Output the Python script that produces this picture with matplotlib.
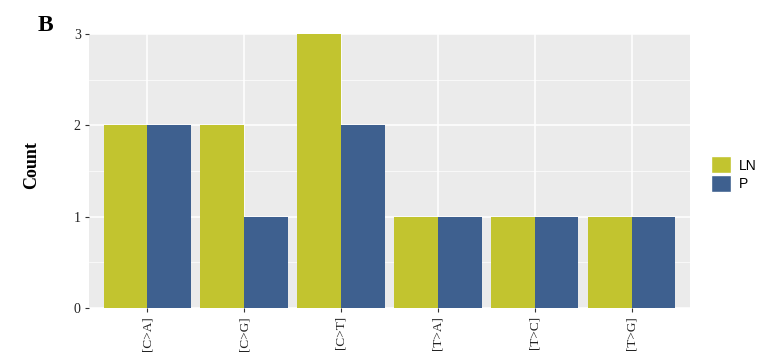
import numpy as np
import matplotlib.pyplot as plt
from matplotlib.patches import Patch

categorias = ['[C>A]', '[C>G]', '[C>T]', '[T>A]', '[T>C]', '[T>G]']
ln = [2, 2, 3, 1, 1, 1]
p = [2, 1, 2, 1, 1, 1]
grupos = ['LN', 'P']
cores = ['#C2C42F', '#3E608F']

serif = 'Liberation Serif'

fig = plt.figure(figsize=(7.84, 3.59), dpi=100)
ax = fig.add_axes([0.1135, 0.142, 0.7665, 0.763])
ax.set_facecolor('#EBEBEB')

x = np.arange(len(categorias))
w = 0.45
ax.bar(x - w / 2, ln, width=w, color=cores[0], zorder=3)
ax.bar(x + w / 2, p, width=w, color=cores[1], zorder=3)

ax.set_xlim(-0.6, len(categorias) - 0.4)
ax.set_ylim(0, 3)
ax.set_yticks([0, 1, 2, 3])
ax.set_yticks([0.5, 1.5, 2.5], minor=True)
ax.set_xticks(x)
ax.set_xticklabels(categorias, rotation=90, family=serif, fontsize=9.5, color='#222222')
for t in ax.get_yticklabels():
    t.set_family(serif)
    t.set_fontsize(10)
    t.set_color('#222222')

ax.grid(True, which='major', color='white', linewidth=1.1, zorder=0)
ax.grid(True, which='minor', axis='y', color='white', linewidth=0.5, zorder=0)
ax.tick_params(which='major', length=3, color='#333333', width=0.8, pad=3)
ax.tick_params(which='minor', length=0)
for s in ax.spines.values():
    s.set_visible(False)

ax.set_ylabel('Count', family=serif, fontweight='bold', fontsize=13)
ax.yaxis.set_label_coords(-0.082, 0.522)
fig.text(0.048, 0.915, 'B', family=serif, fontweight='bold', fontsize=17)

handles = [Patch(facecolor=c, edgecolor='white', label=g) for g, c in zip(grupos, cores)]
fig.legend(handles=handles, loc='center left', bbox_to_anchor=(0.9, 0.515),
           frameon=False, handlelength=1.4, handleheight=1.5,
           handletextpad=0.6, labelspacing=0.1, borderaxespad=0,
           prop={'family': 'Liberation Sans', 'size': 10})

plt.savefig('out.png', dpi=100)
